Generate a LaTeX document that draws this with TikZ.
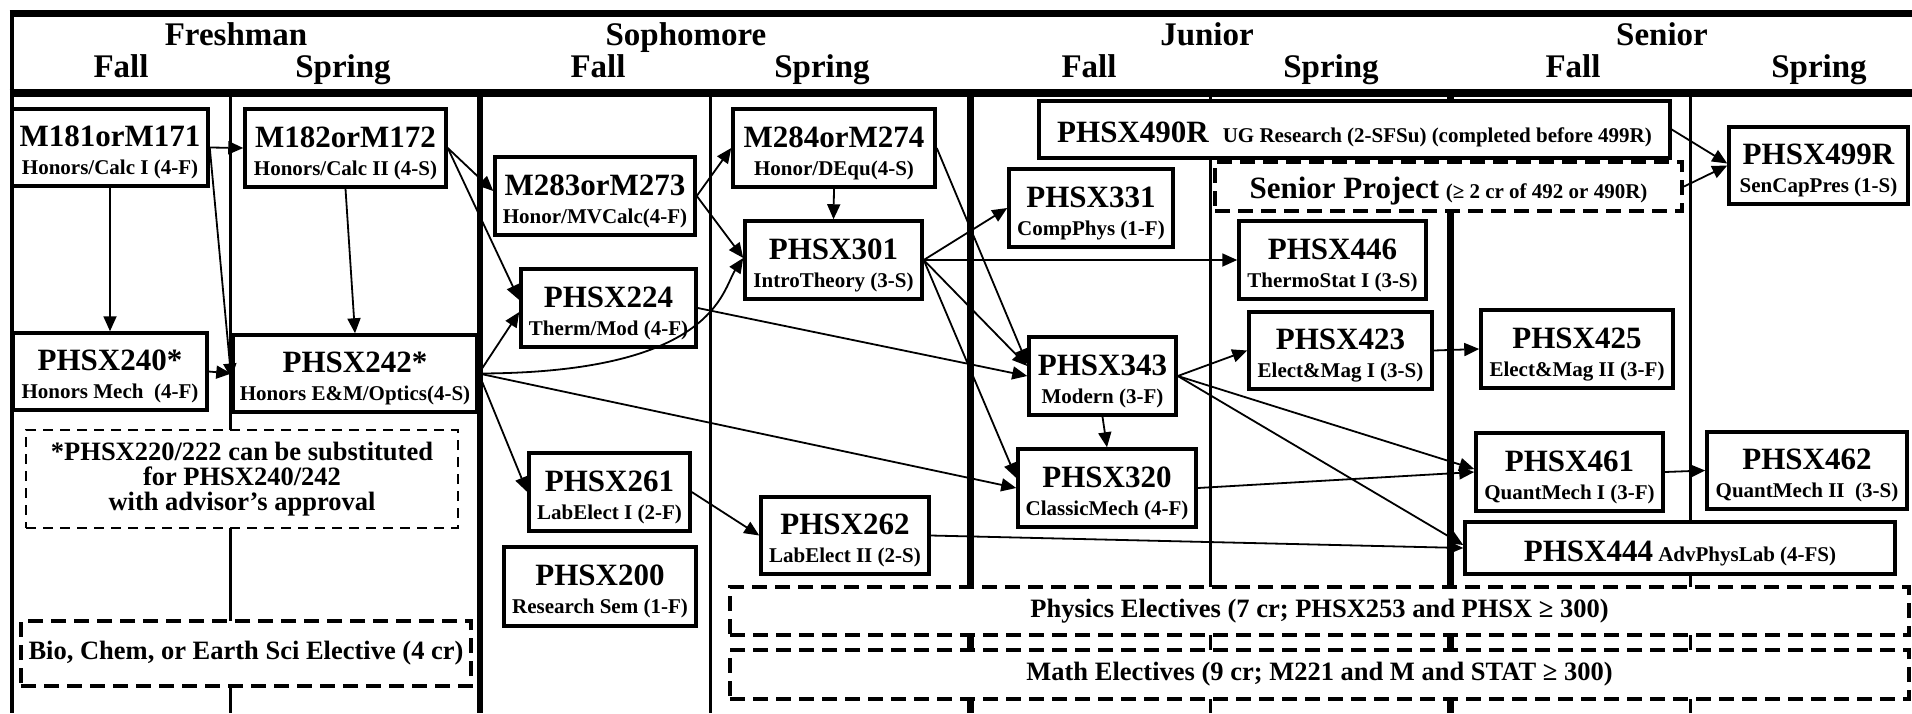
\documentclass[tikz,border=0pt]{standalone}
\usepackage{fontspec}
\setmainfont{Liberation Serif}
\usetikzlibrary{arrows.meta}
\newcommand{\crsbig}[1]{{\fontsize{31}{28}\selectfont\rule{0pt}{31pt}#1}}
\newcommand{\crssmall}[1]{{\fontsize{21}{28}\selectfont\rule[-5pt]{0pt}{5pt}#1}}

\begin{document}
\begin{tikzpicture}[x=1pt,y=-1pt,>={Triangle[length=15pt,width=13pt]}]
    \tikzstyle{every node}=[font=\bfseries];
    \tikzstyle{course}=[draw,line width=3.5pt,fill=white,align=center,inner sep=2pt,font=\bfseries\fontsize{21}{28}\selectfont];
    \tikzstyle{elect}=[draw,line width=4pt,dash pattern=on 15pt off 8pt,fill=white,inner sep=2pt,font=\bfseries\fontsize{26.5}{24.7}\selectfont];
    \tikzstyle{remark}=[draw,line width=2pt,dash pattern=on 10pt off 7pt,fill=white,align=center,inner sep=2pt,font=\bfseries\fontsize{26.5}{24.7}\selectfont];
    \tikzstyle{head}=[anchor=base,font=\bfseries\fontsize{33}{34}\selectfont];
    \tikzstyle{link}=[->,line width=1.8pt];
    \useasboundingbox (0,0) rectangle (1912,713);

% frame and columns
\draw[line width=7pt] (9.5,13.5) -- (1912,13.5);
\draw[line width=8pt] (9.5,93) -- (1912,93);
\draw[line width=4pt] (11.5,10) -- (11.5,713);
\foreach \x/\w in {230/3,480/6,710/3,970/7,1210/3,1450/7,1690/3}
    \draw[line width=\w pt] (\x,97) -- (\x,713);

\node[head] at (236,45)  (yfr) {Freshman};
\node[head] at (686,45)  (yso) {Sophomore};
\node[head] at (1207,45) (yju) {Junior};
\node[head] at (1662,45) (yse) {Senior};
\node[head] at (121,77)  (fr1) {Fall};
\node[head] at (343,77)  (fr2) {Spring};
\node[head] at (598,77)  (so1) {Fall};
\node[head] at (822,77)  (so2) {Spring};
\node[head] at (1089,77) (ju1) {Fall};
\node[head] at (1331,77) (ju2) {Spring};
\node[head] at (1573,77) (se1) {Fall};
\node[head] at (1819,77) (se2) {Spring};

% courses
\node[course,minimum width=196pt,minimum height=77pt] at (110,147.5) (m181) {\crsbig{M181orM171}\\\crssmall{Honors/Calc I (4-F)}};
\node[course,minimum width=201pt,minimum height=78pt] at (345.5,148) (m182) {\crsbig{M182orM172}\\\crssmall{Honors/Calc II (4-S)}};
\node[course,minimum width=194pt,minimum height=77pt] at (110,371.5) (p240) {\crsbig{PHSX240*}\\\crssmall{Honors Mech\ \ (4-F)}};
\node[course,minimum width=244pt,minimum height=77pt] at (355,373.5) (p242) {\crsbig{PHSX242*}\\\crssmall{Honors E\&M/Optics(4-S)}};
\node[course,minimum width=200pt,minimum height=78pt] at (595,196) (m283) {\crsbig{M283orM273}\\\crssmall{Honor/MVCalc(4-F)}};
\node[course,minimum width=175pt,minimum height=78pt] at (608.5,308) (p224) {\crsbig{PHSX224}\\\crssmall{Therm/Mod (4-F)}};
\node[course,minimum width=161pt,minimum height=78pt] at (609.5,492) (p261) {\crsbig{PHSX261}\\\crssmall{LabElect I (2-F)}};
\node[course,minimum width=192pt,minimum height=79pt] at (600,586.5) (p200) {\crsbig{PHSX200}\\\crssmall{Research Sem (1-F)}};
\node[course,minimum width=202pt,minimum height=78pt] at (834,148) (m284) {\crsbig{M284orM274}\\\crssmall{Honor/DEqu(4-S)}};
\node[course,minimum width=177pt,minimum height=78pt] at (833.5,260) (p301) {\crsbig{PHSX301}\\\crssmall{IntroTheory (3-S)}};
\node[course,minimum width=168pt,minimum height=77pt] at (845,535.5) (p262) {\crsbig{PHSX262}\\\crssmall{LabElect II (2-S)}};
\node[course,minimum width=164pt,minimum height=78pt] at (1091,208) (p331) {\crsbig{PHSX331}\\\crssmall{CompPhys (1-F)}};
\node[course,minimum width=147pt,minimum height=78pt] at (1102.5,376) (p343) {\crsbig{PHSX343}\\\crssmall{Modern (3-F)}};
\node[course,minimum width=178pt,minimum height=78pt] at (1107,488) (p320) {\crsbig{PHSX320}\\\crssmall{ClassicMech (4-F)}};
\node[course,minimum width=187pt,minimum height=78pt] at (1332.5,260) (p446) {\crsbig{PHSX446}\\\crssmall{ThermoStat I (3-S)}};
\node[course,minimum width=183pt,minimum height=77pt] at (1340.5,350.5) (p423) {\crsbig{PHSX423}\\\crssmall{Elect\&Mag I (3-S)}};
\node[course,minimum width=192pt,minimum height=78pt] at (1577,349) (p425) {\crsbig{PHSX425}\\\crssmall{Elect\&Mag II (3-F)}};
\node[course,minimum width=187pt,minimum height=78pt] at (1569.5,472) (p461) {\crsbig{PHSX461}\\\crssmall{QuantMech I (3-F)}};
\node[course,minimum width=200pt,minimum height=77pt] at (1807,470.5) (p462) {\crsbig{PHSX462}\\\crssmall{QuantMech II\ \ (3-S)}};
\node[course,minimum width=179pt,minimum height=77pt] at (1818.5,165.5) (p499) {\crsbig{PHSX499R}\\\crssmall{SenCapPres (1-S)}};
\node[course,minimum width=631pt,minimum height=57pt] at (1354.5,129.5) (p490) {\crsbig{PHSX490R}\hspace{14pt}\crssmall{UG Research (2-SFSu) (completed before 499R)}};
\node[course,minimum width=430pt,minimum height=52pt] at (1680,548) (p444) {\crsbig{PHSX444} \crssmall{AdvPhysLab (4-FS)}};

% dashed boxes
\node[elect,minimum width=467pt,minimum height=49pt] at (1448.5,186.5) (sproj) {\crsbig{Senior Project} \crssmall{(≥ 2 cr of 492 or 490R)}};
\node[remark,minimum width=432pt,minimum height=98pt] at (242,479) (note) {*PHSX220/222 can be substituted\\for PHSX240/242\\with advisor’s approval};
\node[elect,minimum width=450pt,minimum height=65pt] at (246,653.5) (bio) {Bio, Chem, or Earth Sci Elective (4 cr)};
\node[elect,minimum width=1179pt,minimum height=48pt] at (1319.5,611) (phys) {Physics Electives (7 cr; PHSX253 and PHSX ≥ 300)};
\node[elect,minimum width=1179pt,minimum height=49pt] at (1319.5,674.5) (math) {Math Electives (9 cr; M221 and M and STAT ≥ 300)};

    \draw[link] (m181.east) to (m182.west);
    \draw[link] (m181.south) to (p240.north);
    \draw[link] (m181.east) to ([yshift=-5pt]p242.west);
    \draw[link] (p240.east) to (p242.west);
    \draw[link] (m182.south) to (p242.north);
    \draw[link] (m182.east) to ([yshift=5pt]m283.west);
    \draw[link] (m182.east) to ([yshift=8pt]p224.west);
    \draw[link] (p242.east) to ([yshift=-4pt]p224.west);
    \draw[link] (p242.east) .. controls (715,373) and (722,290) .. ([yshift=2pt]p301.west);
    \draw[link] (p242.east) to (p320.west);
    \draw[link] (p242.east) to (p261.west);
    \draw[link] (p224.east) to (p343.west);
    \draw[link] (m283.east) to (m284.west);
    \draw[link] (m283.east) to ([yshift=2pt]p301.west);
    \draw[link] (m284.south) to (p301.north);
    \draw[link] (m284.east) to ([yshift=12pt]p343.west);
    \draw[link] (p301.east) to (p331.west);
    \draw[link] (p301.east) to (p446.west);
    \draw[link] (p301.east) to ([yshift=10pt]p343.west);
    \draw[link] (p301.east) to ([yshift=10pt]p320.west);
    \draw[link] (p343.south) to (p320.north);
    \draw[link] (p343.east) to (p423.west);
    \draw[link] (p343.east) to ([yshift=3pt]p461.west);
    \draw[link] (p320.east) to (p461.west);
    \draw[link] (p343.east) to ([yshift=3pt]p444.west);
    \draw[link] (p262.east) to (p444.west);
    \draw[link] (p261.east) to (p262.west);
    \draw[link] (p423.east) to (p425.west);
    \draw[link] (p461.east) to (p462.west);
    \draw[link] (p490.east) to ([yshift=2pt]p499.west);
    \draw[link] (sproj.east) to (p499.west);
\end{tikzpicture}
\end{document}
